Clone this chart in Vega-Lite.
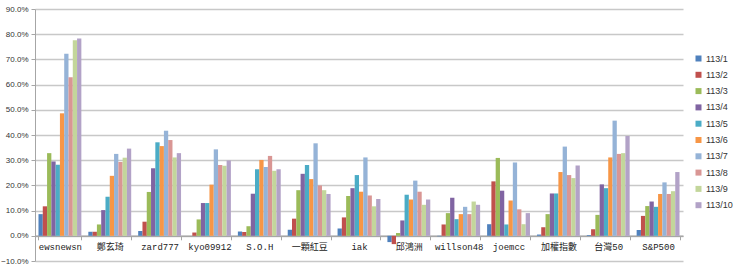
{
  "$schema": "https://vega.github.io/schema/vega-lite/v6.json",
  "width": 648,
  "height": 252,
  "autosize": "none",
  "padding": {"left": 35, "top": 9, "right": 57, "bottom": 10},
  "background": "white",
  "config": {"view": {"stroke": null}},
  "data": {"values": [
    {"c":"ewsnewsn","s":"113/1","v":0.086},{"c":"ewsnewsn","s":"113/2","v":0.117},{"c":"ewsnewsn","s":"113/3","v":0.328},{"c":"ewsnewsn","s":"113/4","v":0.295},{"c":"ewsnewsn","s":"113/5","v":0.282},{"c":"ewsnewsn","s":"113/6","v":0.486},{"c":"ewsnewsn","s":"113/7","v":0.722},{"c":"ewsnewsn","s":"113/8","v":0.629},{"c":"ewsnewsn","s":"113/9","v":0.776},{"c":"ewsnewsn","s":"113/10","v":0.783},
    {"c":"鄭玄琦","s":"113/1","v":0.016},{"c":"鄭玄琦","s":"113/2","v":0.016},{"c":"鄭玄琦","s":"113/3","v":0.045},{"c":"鄭玄琦","s":"113/4","v":0.102},{"c":"鄭玄琦","s":"113/5","v":0.155},{"c":"鄭玄琦","s":"113/6","v":0.238},{"c":"鄭玄琦","s":"113/7","v":0.325},{"c":"鄭玄琦","s":"113/8","v":0.293},{"c":"鄭玄琦","s":"113/9","v":0.310},{"c":"鄭玄琦","s":"113/10","v":0.346},
    {"c":"zard777","s":"113/1","v":0.019},{"c":"zard777","s":"113/2","v":0.056},{"c":"zard777","s":"113/3","v":0.174},{"c":"zard777","s":"113/4","v":0.268},{"c":"zard777","s":"113/5","v":0.371},{"c":"zard777","s":"113/6","v":0.356},{"c":"zard777","s":"113/7","v":0.417},{"c":"zard777","s":"113/8","v":0.380},{"c":"zard777","s":"113/9","v":0.311},{"c":"zard777","s":"113/10","v":0.328},
    {"c":"kyo09912","s":"113/1","v":0.0},{"c":"kyo09912","s":"113/2","v":0.013},{"c":"kyo09912","s":"113/3","v":0.065},{"c":"kyo09912","s":"113/4","v":0.130},{"c":"kyo09912","s":"113/5","v":0.130},{"c":"kyo09912","s":"113/6","v":0.203},{"c":"kyo09912","s":"113/7","v":0.343},{"c":"kyo09912","s":"113/8","v":0.281},{"c":"kyo09912","s":"113/9","v":0.278},{"c":"kyo09912","s":"113/10","v":0.299},
    {"c":"S.O.H","s":"113/1","v":0.017},{"c":"S.O.H","s":"113/2","v":0.015},{"c":"S.O.H","s":"113/3","v":0.038},{"c":"S.O.H","s":"113/4","v":0.167},{"c":"S.O.H","s":"113/5","v":0.264},{"c":"S.O.H","s":"113/6","v":0.301},{"c":"S.O.H","s":"113/7","v":0.273},{"c":"S.O.H","s":"113/8","v":0.317},{"c":"S.O.H","s":"113/9","v":0.258},{"c":"S.O.H","s":"113/10","v":0.264},
    {"c":"一顆紅豆","s":"113/1","v":0.024},{"c":"一顆紅豆","s":"113/2","v":0.068},{"c":"一顆紅豆","s":"113/3","v":0.181},{"c":"一顆紅豆","s":"113/4","v":0.246},{"c":"一顆紅豆","s":"113/5","v":0.281},{"c":"一顆紅豆","s":"113/6","v":0.225},{"c":"一顆紅豆","s":"113/7","v":0.367},{"c":"一顆紅豆","s":"113/8","v":0.200},{"c":"一顆紅豆","s":"113/9","v":0.181},{"c":"一顆紅豆","s":"113/10","v":0.166},
    {"c":"iak","s":"113/1","v":0.029},{"c":"iak","s":"113/2","v":0.073},{"c":"iak","s":"113/3","v":0.158},{"c":"iak","s":"113/4","v":0.189},{"c":"iak","s":"113/5","v":0.241},{"c":"iak","s":"113/6","v":0.175},{"c":"iak","s":"113/7","v":0.311},{"c":"iak","s":"113/8","v":0.160},{"c":"iak","s":"113/9","v":0.117},{"c":"iak","s":"113/10","v":0.146},
    {"c":"邱鴻洲","s":"113/1","v":-0.025},{"c":"邱鴻洲","s":"113/2","v":-0.033},{"c":"邱鴻洲","s":"113/3","v":0.011},{"c":"邱鴻洲","s":"113/4","v":0.061},{"c":"邱鴻洲","s":"113/5","v":0.163},{"c":"邱鴻洲","s":"113/6","v":0.144},{"c":"邱鴻洲","s":"113/7","v":0.219},{"c":"邱鴻洲","s":"113/8","v":0.175},{"c":"邱鴻洲","s":"113/9","v":0.123},{"c":"邱鴻洲","s":"113/10","v":0.144},
    {"c":"willson48","s":"113/1","v":-0.002},{"c":"willson48","s":"113/2","v":0.045},{"c":"willson48","s":"113/3","v":0.090},{"c":"willson48","s":"113/4","v":0.151},{"c":"willson48","s":"113/5","v":0.066},{"c":"willson48","s":"113/6","v":0.086},{"c":"willson48","s":"113/7","v":0.115},{"c":"willson48","s":"113/8","v":0.086},{"c":"willson48","s":"113/9","v":0.136},{"c":"willson48","s":"113/10","v":0.123},
    {"c":"joemcc","s":"113/1","v":0.046},{"c":"joemcc","s":"113/2","v":0.216},{"c":"joemcc","s":"113/3","v":0.309},{"c":"joemcc","s":"113/4","v":0.179},{"c":"joemcc","s":"113/5","v":0.045},{"c":"joemcc","s":"113/6","v":0.140},{"c":"joemcc","s":"113/7","v":0.291},{"c":"joemcc","s":"113/8","v":0.105},{"c":"joemcc","s":"113/9","v":0.046},{"c":"joemcc","s":"113/10","v":0.090},
    {"c":"加權指數","s":"113/1","v":0.005},{"c":"加權指數","s":"113/2","v":0.034},{"c":"加權指數","s":"113/3","v":0.086},{"c":"加權指數","s":"113/4","v":0.168},{"c":"加權指數","s":"113/5","v":0.168},{"c":"加權指數","s":"113/6","v":0.253},{"c":"加權指數","s":"113/7","v":0.354},{"c":"加權指數","s":"113/8","v":0.241},{"c":"加權指數","s":"113/9","v":0.229},{"c":"加權指數","s":"113/10","v":0.279},
    {"c":"台灣50","s":"113/1","v":0.003},{"c":"台灣50","s":"113/2","v":0.026},{"c":"台灣50","s":"113/3","v":0.083},{"c":"台灣50","s":"113/4","v":0.204},{"c":"台灣50","s":"113/5","v":0.189},{"c":"台灣50","s":"113/6","v":0.311},{"c":"台灣50","s":"113/7","v":0.457},{"c":"台灣50","s":"113/8","v":0.325},{"c":"台灣50","s":"113/9","v":0.328},{"c":"台灣50","s":"113/10","v":0.396},
    {"c":"S&P500","s":"113/1","v":0.023},{"c":"S&P500","s":"113/2","v":0.079},{"c":"S&P500","s":"113/3","v":0.118},{"c":"S&P500","s":"113/4","v":0.136},{"c":"S&P500","s":"113/5","v":0.115},{"c":"S&P500","s":"113/6","v":0.166},{"c":"S&P500","s":"113/7","v":0.212},{"c":"S&P500","s":"113/8","v":0.166},{"c":"S&P500","s":"113/9","v":0.177},{"c":"S&P500","s":"113/10","v":0.253}
  ]},
  "mark": {"type": "bar"},
  "encoding": {
    "x": {
      "field": "c", "type": "nominal", "sort": null, "title": null,
      "scale": {"paddingInner": 0.14, "paddingOuter": 0.07},
      "axis": {
        "offset": -25.2, "labelAngle": 0, "domainColor": "#a6a6a6", "domainWidth": 1.5,
        "tickColor": "#a6a6a6", "tickSize": 4, "tickBand": "extent",
        "labelFont": "Liberation Mono, Noto Sans CJK TC", "labelFontSize": 9,
        "labelColor": "#222222", "labelPadding": 3
      }
    },
    "xOffset": {
      "field": "s", "type": "nominal",
      "sort": ["113/1","113/2","113/3","113/4","113/5","113/6","113/7","113/8","113/9","113/10"],
      "scale": {"paddingInner": 0, "paddingOuter": 0}
    },
    "y": {
      "field": "v", "type": "quantitative", "title": null,
      "scale": {"domain": [-0.1, 0.9], "nice": false},
      "axis": {
        "values": [-0.1,0,0.1,0.2,0.3,0.4,0.5,0.6,0.7,0.8,0.9],
        "format": ".1%", "labelFont": "Liberation Sans", "labelFontSize": 8,
        "labelColor": "#333333", "gridColor": "#c8c8c8", "gridWidth": 1.5,
        "domainColor": "#a6a6a6", "tickColor": "#a6a6a6", "tickSize": 4, "labelPadding": 3
      }
    },
    "color": {
      "field": "s", "type": "nominal",
      "scale": {
        "domain": ["113/1","113/2","113/3","113/4","113/5","113/6","113/7","113/8","113/9","113/10"],
        "range": ["#4F81BD","#C0504D","#9BBB59","#8064A2","#4BACC6","#F79646","#95B3D7","#D99694","#C3D69B","#B2A2C7"]
      },
      "legend": {
        "title": null, "orient": "none", "legendX": 659, "legendY": 45,
        "symbolType": "square", "symbolSize": 36, "symbolStrokeWidth": 0,
        "labelFont": "Liberation Sans", "labelFontSize": 9, "labelColor": "#333333",
        "rowPadding": 6.3, "labelOffset": 3
      }
    }
  }
}
